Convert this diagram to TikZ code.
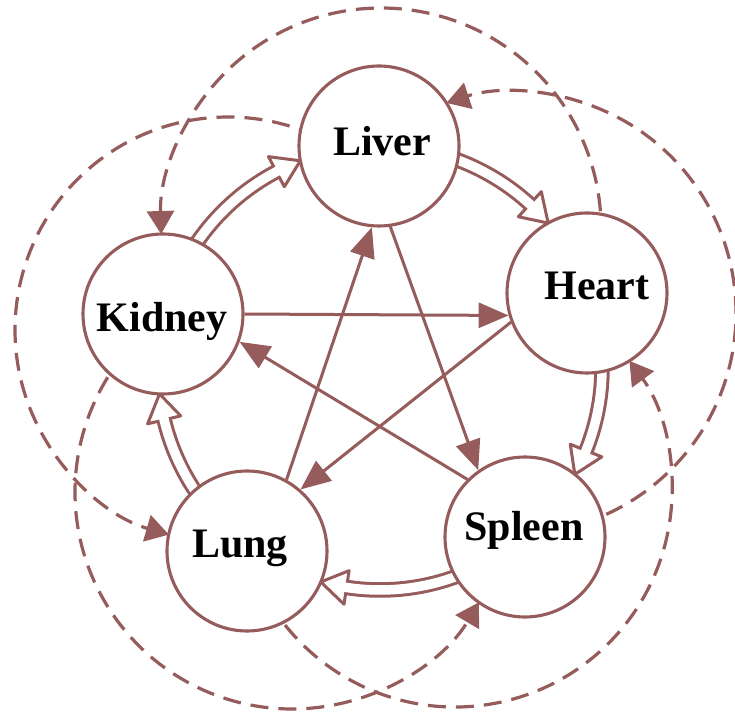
\documentclass[tikz,border=0pt]{standalone}
\usepackage{fontspec}
\setmainfont{Liberation Serif}
\usetikzlibrary{arrows.meta,calc}
\definecolor{brn}{RGB}{150,92,92}
\pgfdeclarelayer{bg}
\pgfsetlayers{bg,main}
% hollow double-line arrow along the generating circle (runs clockwise)
\newcommand\genarrow[2]{%
  \pgfmathsetmacro\gnbase{#2+6.8}%
  \pgfmathsetmacro\gnwhite{#2+5.2}%
  \draw[brn, line width=15.5pt] ($(ctr)+(#1:222)$) arc[start angle=#1, end angle=\gnbase, radius=222];
  \filldraw[brn, fill=white, line width=3pt, line join=round]
    ($(ctr)+(#2:222)$) -- ($(ctr)+(\gnbase:239)$) -- ($(ctr)+(\gnbase:205)$) -- cycle;
  \draw[white, line width=9.5pt] ($(ctr)+(#1:222)$) arc[start angle=#1, end angle=\gnwhite, radius=222];
}
\begin{document}
\begin{tikzpicture}[x=1pt,y=1pt,
  organ/.style={circle, draw=brn, line width=3.1pt, fill=white, minimum size=160pt, inner sep=0pt},
  lbl/.style={font=\bfseries\fontsize{42}{50}\selectfont, inner sep=0pt, anchor=base},
  ctl/.style={brn, line width=3pt, -{Triangle[length=30pt,width=25pt]}},
  dsh/.style={brn, line width=3.2pt, dash pattern=on 18pt off 10pt, -{Triangle[length=23pt,width=27pt]}}]
\useasboundingbox (0,0) rectangle (735,715);
% organs
\node[organ] (liver)  at (379,569) {};
\node[organ] (heart)  at (587,422) {};
\node[organ] (kidney) at (163,401) {};
\node[organ] (lung)   at (247,164) {};
\node[organ] (spleen) at (525,178) {};
\node[lbl] (liverT)  at (382,559) {Liver};
\node[lbl] (heartT)  at (597,415) {Heart};
\node[lbl] (kidneyT) at (162,383) {Kidney};
\node[lbl] (lungT)   at (240,158) {Lung};
\node[lbl] (spleenT) at (524,175) {Spleen};
% centres of the arcs
\coordinate (ctr) at (380,347);
\coordinate (aHK) at (381,487);
\coordinate (aSL) at (515,402);
\coordinate (aLH) at (455,225);
\coordinate (aKS) at (292,223);
\coordinate (aLL) at (228,385);
\begin{pgfonlayer}{bg}
\fill[white] (0,0) rectangle (735,715);
% generating cycle (hollow arrows)
\genarrow{166.03}{111.03}
\genarrow{90.26}{40.75}
\genarrow{19.92}{-28.64}
\genarrow{-49.37}{-105.47}
\genarrow{-126.0}{-173.29}
% controlling cycle (solid arrows)
\draw[ctl] (liver.-82.8) -- (spleen.125.2);
\draw[ctl] (spleen.135.5) -- (kidney.-20);
\draw[ctl] (kidney.-0.7) -- (heart.-164);
\draw[ctl] (heart.-159) -- (lung.49);
\draw[ctl] (lung.61) -- (liver.-95);
% counter-restraining (dashed arcs)
\draw[dsh] (aHK) ++(-17.5:220) arc[start angle=-17.5, end angle=181.57, radius=220];
\draw[dsh] (aSL) ++(-87.4:221) arc[start angle=-87.4, end angle=108.08, radius=221];
\draw[dsh] (aLH) ++(-163.7:217) arc[start angle=-163.7, end angle=36.51, radius=217];
\draw[dsh] (aKS) ++(125.93:217) arc[start angle=125.93, end angle=329.44, radius=217];
\draw[dsh] (aLL) ++(50.6:213) arc[start angle=50.6, end angle=253.9, radius=213];
\end{pgfonlayer}
\end{tikzpicture}
\end{document}
